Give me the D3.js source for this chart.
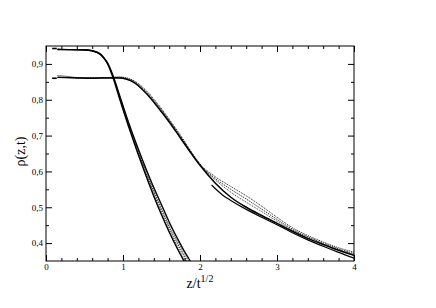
<!DOCTYPE html>
<html>
<head>
<meta charset="utf-8">
<script src="https://cdn.jsdelivr.net/npm/d3@7"></script>
<style>
  html, body { margin: 0; padding: 0; background: #fff; }
  svg text { font-family: "Liberation Serif", "DejaVu Serif", serif; fill: #000; }
</style>
</head>
<body>
<svg id="chart" width="436" height="308"></svg>
<script>
// ---- data ----
const xTicks = [0, 1, 2, 3, 4];
const yTicks = [0.4, 0.5, 0.6, 0.7, 0.8, 0.9];
const xMinor = [0.2,0.4,0.6,0.8,1.2,1.4,1.6,1.8,2.2,2.4,2.6,2.8,3.2,3.4,3.6,3.8];
const yMinor = [0.45,0.55,0.65,0.75,0.85];

// initial-value marks at the left edge
const markX = [0.08, 0.14];
const markHigh = [0.943, 0.943];
const markLow = [0.860, 0.860];

// steep family
const xA = [0.15,0.3,0.5,0.6,0.7,0.75,0.8,0.87,0.96,1.09,1.2,1.3,1.4,1.5,1.6,1.7,1.8,1.9];
const A1 = [0.940,0.940,0.939,0.936,0.927,0.916,0.900,0.862,0.800,0.714,0.646,0.587,0.531,0.479,0.431,0.387,0.347,0.311];
const A2 = [0.940,0.940,0.939,0.936,0.927,0.916,0.900,0.8635,0.8025,0.717,0.650,0.592,0.537,0.486,0.438,0.394,0.354,0.318];
const A3 = [0.940,0.940,0.939,0.937,0.928,0.917,0.901,0.865,0.805,0.720,0.654,0.597,0.543,0.493,0.445,0.402,0.362,0.326];
const A4 = [0.941,0.940,0.940,0.937,0.928,0.918,0.902,0.8665,0.8075,0.723,0.658,0.602,0.549,0.500,0.452,0.409,0.369,0.333];
const A5 = [0.941,0.940,0.940,0.937,0.929,0.918,0.903,0.868,0.810,0.726,0.662,0.607,0.555,0.507,0.459,0.416,0.376,0.341];

// slow family, full range
const xB = [0.15,0.25,0.4,0.6,0.8,0.95,1.05,1.15,1.3,1.45,1.6,1.75,1.9,2.0,2.2,2.4,2.6,2.8,3.0,3.2,3.4,3.6,3.8,4.0];
const B1 = [0.868,0.866,0.862,0.861,0.862,0.864,0.861,0.852,0.826,0.789,0.746,0.700,0.651,0.621,0.585,0.558,0.532,0.503,0.472,0.443,0.421,0.403,0.387,0.375];
const B2 = [0.862,0.862,0.861,0.861,0.862,0.862,0.859,0.850,0.823,0.786,0.743,0.697,0.649,0.619,0.580,0.550,0.523,0.495,0.466,0.439,0.418,0.400,0.384,0.371];
const B3 = [0.862,0.862,0.861,0.861,0.861,0.862,0.858,0.848,0.820,0.783,0.741,0.695,0.647,0.618,0.576,0.542,0.514,0.488,0.461,0.436,0.415,0.397,0.381,0.368];
const B4 = [0.863,0.862,0.861,0.860,0.861,0.861,0.857,0.847,0.818,0.780,0.738,0.692,0.646,0.617,0.567,0.528,0.500,0.477,0.455,0.433,0.413,0.396,0.380,0.366];

// slow family, lower branch
const xL = [2.15,2.3,2.4,2.6,2.8,3.0,3.2,3.4,3.6,3.8,4.0];
const L1 = [0.562,0.533,0.519,0.494,0.472,0.451,0.429,0.409,0.391,0.374,0.358];

// ---- drawing ----
const W = 436, H = 308;
const m = { left: 46, right: 82, top: 46, bottom: 47 };
const iw = W - m.left - m.right, ih = H - m.top - m.bottom;

const svg = d3.select("#chart");
const g = svg.append("g").attr("transform", `translate(${m.left},${m.top})`);

const x = d3.scaleLinear().domain([0, 4]).range([0, iw]);
const y = d3.scaleLinear().domain([0.35, 0.95]).range([ih, 0]);

svg.append("defs").append("clipPath").attr("id", "clip")
  .append("rect").attr("width", iw).attr("height", ih);

const fmtY = d => d.toFixed(1).replace(".", ",");

// axes
g.append("g").attr("transform", `translate(0,${ih})`)
  .call(d3.axisBottom(x).tickValues(xTicks).tickSize(-6).tickPadding(3).tickFormat(d3.format("d")));
g.append("g").attr("transform", `translate(0,${ih})`)
  .call(d3.axisBottom(x).tickValues(xMinor).tickSize(-3).tickFormat(""));
g.append("g")
  .call(d3.axisLeft(y).tickValues(yTicks).tickSize(-6).tickPadding(3).tickFormat(fmtY));
g.append("g").call(d3.axisLeft(y).tickValues(yMinor).tickSize(-3).tickFormat(""));
g.append("g").call(d3.axisTop(x).tickValues(xTicks).tickSize(-6).tickFormat(""));
g.append("g").call(d3.axisTop(x).tickValues(xMinor).tickSize(-3).tickFormat(""));
g.append("g").attr("transform", `translate(${iw},0)`)
  .call(d3.axisRight(y).tickValues(yTicks).tickSize(-6).tickFormat(""));
g.append("g").attr("transform", `translate(${iw},0)`)
  .call(d3.axisRight(y).tickValues(yMinor).tickSize(-3).tickFormat(""));

g.selectAll(".domain").remove();
g.selectAll(".tick line").attr("stroke", "#000").attr("stroke-width", 1);
g.selectAll(".tick text")
  .style("font-family", "'Liberation Serif', serif")
  .style("font-size", "9px");

g.append("rect").attr("width", iw).attr("height", ih)
  .attr("fill", "none").attr("stroke", "#000").attr("stroke-width", 1);

// curves
const line = d3.line().x(d => x(d[0])).y(d => y(d[1])).curve(d3.curveMonotoneX);
const zip = (xs, ys) => xs.map((v, i) => [v, ys[i]]);
const curves = g.append("g").attr("clip-path", "url(#clip)");

const series = [
  { xs: xA, ys: A1, dash: null, w: 1.4 },
  { xs: xA, ys: A2, dash: "1,1", w: 0.8 },
  { xs: xA, ys: A3, dash: "1.5,1", w: 0.8 },
  { xs: xA, ys: A4, dash: "1,1", w: 0.8 },
  { xs: xA, ys: A5, dash: null, w: 1.3 },
  { xs: xB, ys: B1, dash: "1,1", w: 0.9 },
  { xs: xB, ys: B2, dash: "1.5,1", w: 0.8 },
  { xs: xB, ys: B3, dash: "1,1", w: 0.8 },
  { xs: xB, ys: B4, dash: null, w: 1.5 },
  { xs: xL, ys: L1, dash: null, w: 1.2 }
];
series.forEach(s => {
  curves.append("path")
    .attr("d", line(zip(s.xs, s.ys)))
    .attr("fill", "none").attr("stroke", "#000")
    .attr("stroke-width", s.w)
    .attr("stroke-dasharray", s.dash);
});

[markHigh, markLow].forEach(ys => {
  curves.append("path")
    .attr("d", d3.line().x(d => x(d[0])).y(d => y(d[1]))(zip(markX, ys)))
    .attr("fill", "none").attr("stroke", "#000").attr("stroke-width", 1.6);
});

// labels
svg.append("text")
  .attr("transform", `translate(25,${m.top + ih / 2 - 2}) rotate(-90)`)
  .attr("text-anchor", "middle").style("font-size", "14px")
  .text("ρ(z,t)");

const xl = svg.append("text")
  .attr("x", m.left + iw / 2).attr("y", 288)
  .attr("text-anchor", "middle").style("font-size", "14px");
xl.append("tspan").text("z/t");
xl.append("tspan").style("font-size", "10px").attr("dy", -6).text("1/2");
</script>
</body>
</html>
